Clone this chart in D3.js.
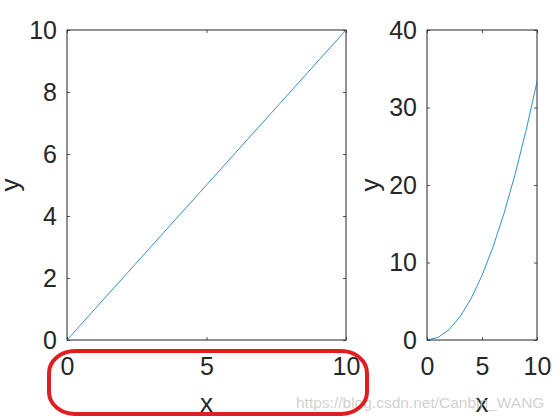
<!DOCTYPE html>
<html><head><meta charset="utf-8">
<script src="https://cdn.jsdelivr.net/npm/d3@7"></script>
<style>body{margin:0;background:#fff}svg{display:block}</style>
</head><body>
<script>
const xLeft = [0,1,2,3,4,5,6,7,8,9,10];
const yLeft = [0,1,2,3,4,5,6,7,8,9,10];
const xRight = [0,1,2,3,4,5,6,7,8,9,10];
const yRight = [0,0.33,1.33,3,5.33,8.33,12,16.33,21.33,27,33.33];
const xTicksLeft = [0,5,10];
const yTicksLeft = [0,2,4,6,8,10];
const xTicksRight = [0,5,10];
const yTicksRight = [0,10,20,30,40];
const watermark = "https://blog.csdn.net/Canbin_WANG";

const W=560,H=420;
const svg=d3.select("body").append("svg").attr("width",W).attr("height",H);
const font="Liberation Sans, Arial, sans-serif";

function panel(x0,x1,y0,y1,xd,yd,xs,ys,xt,yt,ylx){
  const x=d3.scaleLinear().domain(xd).range([x0,x1]);
  const y=d3.scaleLinear().domain(yd).range([y1,y0]);
  const g=svg.append("g");
  const tl=3;
  const mk=(axis,tr)=>{const a=g.append("g").attr("transform",tr).call(axis);
    a.select(".domain").remove();a.selectAll("line").attr("stroke","#262626").attr("stroke-width",0.8);
    a.selectAll("text").attr("font-family",font).attr("font-size",25).attr("fill","#262626");return a;};
  mk(d3.axisBottom(x).tickValues(xt).tickSize(-tl).tickPadding(17).tickFormat(d3.format("d")),`translate(0,${y1})`);
  mk(d3.axisTop(x).tickValues(xt).tickSize(-tl).tickFormat(""),`translate(0,${y0})`);
  mk(d3.axisLeft(y).tickValues(yt).tickSize(-tl).tickPadding(10).tickFormat(d3.format("d")),`translate(${x0},0)`);
  mk(d3.axisRight(y).tickValues(yt).tickSize(-tl).tickFormat(""),`translate(${x1},0)`);
  g.append("rect").attr("x",x0).attr("y",y0).attr("width",x1-x0).attr("height",y1-y0)
    .attr("fill","none").attr("stroke","#262626").attr("stroke-width",1);
  g.append("path").datum(xs.map((v,i)=>[v,ys[i]]))
    .attr("d",d3.line().x(d=>x(d[0])).y(d=>y(d[1])))
    .attr("fill","none").attr("stroke","#0072BD").attr("stroke-width",0.8);
  g.append("text").attr("x",(x0+x1)/2).attr("y",412).attr("text-anchor","middle")
    .attr("font-family",font).attr("font-size",26).attr("fill","#262626").text("x");
  g.append("text").attr("transform",`translate(${ylx},${(y0+y1)/2}) rotate(-90)`).attr("text-anchor","middle")
    .attr("font-family",font).attr("font-size",26).attr("fill","#262626").text("y");
}
panel(67,346,30,340,[0,10],[0,10],xLeft,yLeft,xTicksLeft,yTicksLeft,19);
panel(427,537,30,340,[0,10],[0,40],xRight,yRight,xTicksRight,yTicksRight,379);

svg.append("text").attr("x",296).attr("y",408).attr("font-family",font).attr("font-size",15.5)
  .attr("fill","#c8c8c8").attr("fill-opacity",0.85).text(watermark);

svg.append("rect").attr("x",49).attr("y",351).attr("width",318).attr("height",63)
  .attr("rx",26).attr("ry",22).attr("fill","none").attr("stroke","#e01e22").attr("stroke-width",4);
</script>
</body></html>
